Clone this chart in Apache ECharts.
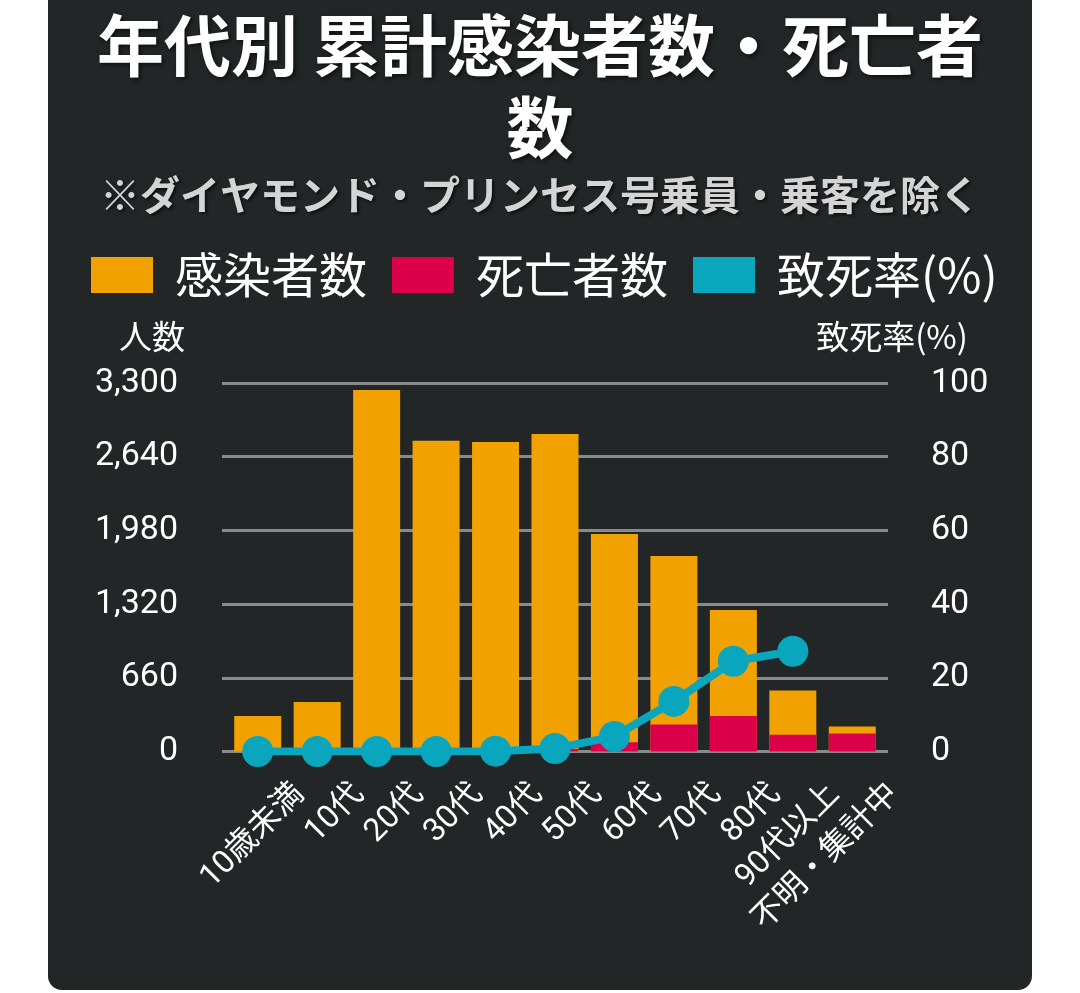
<!DOCTYPE html>
<html>
<head>
<meta charset="utf-8">
<script src="https://cdn.jsdelivr.net/npm/echarts@6/dist/echarts.min.js"></script>
<style>
  html, body { margin: 0; padding: 0; background: #ffffff; }
  #panel { position: absolute; left: 48px; top: 0; width: 984px; height: 990px; background: #222626; border-radius: 0 0 14px 14px; }
  #chart { position: absolute; left: 0; top: 0; width: 1080px; height: 993px; }
</style>
</head>
<body>
<div id="panel"></div>
<div id="chart"></div>
<script>
const titleText = '年代別 累計感染者数・死亡者\n数';
const subtitleText = '※ダイヤモンド・プリンセス号乗員・乗客を除く';
const categories = ['10歳未満', '10代', '20代', '30代', '40代', '50代', '60代', '70代', '80代', '90代以上', '不明・集計中'];
const infected = [318, 443, 3237, 2783, 2772, 2843, 1948, 1751, 1267, 546, 224];
const deaths = [0, 0, 0, 1, 3, 23, 83, 242, 317, 150, 161];
const fatalityRate = [0, 0, 0, 0, 0.1, 0.8, 4.1, 13.6, 24.5, 27.2, null];
const leftTickLabels = ['0', '660', '1,320', '1,980', '2,640', '3,300'];
const rightTickLabels = ['0', '20', '40', '60', '80', '100'];
const seriesNames = ['感染者数', '死亡者数', '致死率(%)'];
const leftAxisName = '人数';
const rightAxisName = '致死率(%)';

const FONT = "Roboto, 'Noto Sans CJK JP', sans-serif";
const CJK = "'Noto Sans CJK JP', Roboto, sans-serif";
const chart = echarts.init(document.getElementById('chart'));

const gridTop = 383, gridBottom = 993 - 751.5;
chart.setOption({
  backgroundColor: 'transparent',
  animation: false,
  textStyle: { fontFamily: FONT },
  title: [
    {
      text: titleText, left: 'center', top: 0,
      textStyle: { fontFamily: CJK, fontSize: 67, fontWeight: 'bold', color: '#ffffff', lineHeight: 82,
        textShadowColor: 'rgba(0,0,0,0.6)', textShadowBlur: 4, textShadowOffsetX: 2, textShadowOffsetY: 2 }
    },
    {
      text: subtitleText, left: 'center', top: 168,
      textStyle: { fontFamily: CJK, fontSize: 40, fontWeight: 'bold', color: '#d4d4d4', lineHeight: 44,
        textShadowColor: 'rgba(0,0,0,0.6)', textShadowBlur: 3, textShadowOffsetX: 2, textShadowOffsetY: 2 }
    }
  ],
  legend: {
    data: seriesNames, left: 86, top: 245, icon: 'rect',
    itemWidth: 62, itemHeight: 36, itemGap: 25,
    textStyle: { fontFamily: CJK, fontSize: 48, color: '#ffffff', lineHeight: 50, padding: [0, 0, 0, 17] }
  },
  grid: [
    { left: 222, right: 192, top: gridTop, bottom: gridBottom },
    { left: 228, width: 654, top: gridTop, bottom: gridBottom },
    { left: 270, width: 654, top: gridTop, bottom: gridBottom }
  ],
  xAxis: [
    { gridIndex: 0, type: 'category', data: categories, show: false },
    { gridIndex: 1, type: 'category', data: categories, show: false },
    { gridIndex: 2, type: 'category', data: categories,
      axisLine: { show: false }, axisTick: { show: false }, splitLine: { show: false },
      axisLabel: { interval: 0, rotate: 45, margin: 38, color: '#ffffff', fontSize: 32, fontFamily: FONT } }
  ],
  yAxis: [
    { gridIndex: 0, type: 'value', min: 0, max: 3300, interval: 660, position: 'left',
      name: leftAxisName, nameLocation: 'end', nameGap: 30,
      nameTextStyle: { color: '#ffffff', fontSize: 33, fontFamily: CJK, align: 'right', padding: [0, 37, 0, 0] },
      axisLine: { show: false }, axisTick: { show: false },
      splitLine: { show: true, lineStyle: { color: '#8a8a8a', width: 3 } },
      axisLabel: { color: '#ffffff', fontSize: 34, margin: 44, formatter: v => leftTickLabels[Math.round(v / 660)] } },
    { gridIndex: 0, type: 'value', min: 0, max: 100, interval: 20, position: 'right',
      name: rightAxisName, nameLocation: 'end', nameGap: 30,
      nameTextStyle: { color: '#ffffff', fontSize: 33, fontFamily: CJK, padding: [0, 0, 0, 8] },
      axisLine: { show: false }, axisTick: { show: false }, splitLine: { show: false },
      axisLabel: { color: '#ffffff', fontSize: 34, margin: 43, formatter: v => rightTickLabels[Math.round(v / 20)] } },
    { gridIndex: 1, type: 'value', min: 0, max: 3300, show: false, splitLine: { show: false } },
    { gridIndex: 1, type: 'value', min: 0, max: 100, show: false, splitLine: { show: false } },
    { gridIndex: 2, type: 'value', min: 0, max: 1, show: false, splitLine: { show: false } }
  ],
  series: [
    { name: seriesNames[0], type: 'bar', xAxisIndex: 1, yAxisIndex: 2, data: infected,
      barWidth: 47, barGap: '-100%', itemStyle: { color: '#f2a200' }, z: 2 },
    { name: seriesNames[1], type: 'bar', xAxisIndex: 1, yAxisIndex: 2, data: deaths,
      barWidth: 47, barGap: '-100%', itemStyle: { color: '#dc004b' }, z: 3 },
    { name: seriesNames[2], type: 'line', xAxisIndex: 1, yAxisIndex: 3, data: fatalityRate,
      symbol: 'circle', symbolSize: 31, connectNulls: false,
      lineStyle: { color: '#0aa6bd', width: 8 }, itemStyle: { color: '#0aa6bd' }, z: 5 }
  ]
});
</script>
</body>
</html>
